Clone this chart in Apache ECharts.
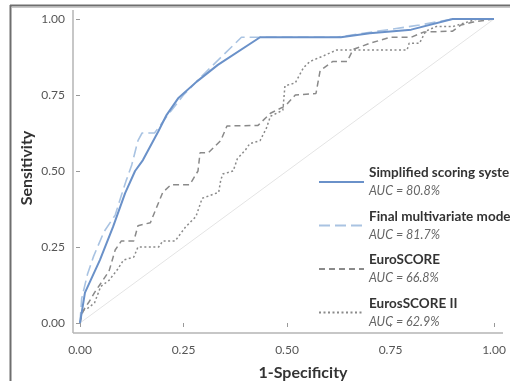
<!DOCTYPE html>
<html>
<head>
<meta charset="utf-8">
<script src="https://cdn.jsdelivr.net/npm/echarts@6/dist/echarts.min.js"></script>
<style>
  html, body { margin: 0; padding: 0; background: #fff; }
  #chart { width: 510px; height: 381px; }
</style>
</head>
<body>
<div id="chart"></div>
<script>
// ROC curves: [1-specificity, sensitivity]
const simplifiedScore = [
  [0, 0], [0.012, 0.10], [0.048, 0.207], [0.08, 0.317], [0.109, 0.427],
  [0.133, 0.50], [0.152, 0.536], [0.189, 0.63], [0.209, 0.684], [0.237, 0.739],
  [0.282, 0.794], [0.333, 0.849], [0.435, 0.94], [0.63, 0.94], [0.70, 0.953],
  [0.80, 0.965], [0.90, 1.0], [1, 1]
];
const finalModel = [
  [0, 0], [0.004, 0.08], [0.018, 0.16], [0.033, 0.22], [0.058, 0.30],
  [0.085, 0.355], [0.10, 0.42], [0.112, 0.47], [0.125, 0.52], [0.14, 0.60],
  [0.15, 0.625], [0.18, 0.625], [0.21, 0.68], [0.25, 0.75], [0.30, 0.82],
  [0.39, 0.94], [0.62, 0.94], [0.72, 0.96], [0.82, 0.98], [0.90, 1.0], [1, 1]
];
const euroScore = [
  [0, 0], [0.005, 0.03], [0.012, 0.05], [0.022, 0.07], [0.035, 0.10],
  [0.05, 0.13], [0.07, 0.17], [0.085, 0.24], [0.10, 0.27], [0.13, 0.27],
  [0.14, 0.32], [0.17, 0.33], [0.20, 0.43], [0.22, 0.455], [0.265, 0.455],
  [0.285, 0.50], [0.29, 0.56], [0.31, 0.56], [0.34, 0.60], [0.355, 0.648],
  [0.43, 0.65], [0.46, 0.69], [0.49, 0.71], [0.50, 0.72], [0.52, 0.75],
  [0.57, 0.755], [0.58, 0.83], [0.61, 0.86], [0.645, 0.86], [0.66, 0.90],
  [0.70, 0.92], [0.75, 0.94], [0.80, 0.94], [0.83, 0.957], [0.90, 0.96],
  [0.92, 0.98], [0.95, 0.99], [1, 1]
];
const euroScoreII = [
  [0, 0], [0.005, 0.04], [0.02, 0.05], [0.035, 0.066], [0.05, 0.12],
  [0.07, 0.14], [0.09, 0.175], [0.105, 0.207], [0.13, 0.217], [0.14, 0.25],
  [0.19, 0.25], [0.20, 0.27], [0.23, 0.27], [0.255, 0.316], [0.28, 0.35],
  [0.295, 0.41], [0.335, 0.43], [0.34, 0.47], [0.345, 0.49], [0.37, 0.50],
  [0.38, 0.54], [0.40, 0.57], [0.41, 0.59], [0.435, 0.60], [0.45, 0.64],
  [0.46, 0.68], [0.49, 0.70], [0.495, 0.78], [0.52, 0.79], [0.54, 0.84],
  [0.555, 0.86], [0.59, 0.88], [0.62, 0.898], [0.79, 0.898], [0.795, 0.92],
  [0.82, 0.92], [0.835, 0.96], [0.86, 0.975], [0.90, 0.975], [0.96, 1.0], [1, 1]
];
const chanceLine = [[0, 0], [1, 1]];

const seriesNames = ['Simplified scoring system', 'Final multivariate model', 'EuroSCORE', 'EurosSCORE II'];
const aucLabels = ['AUC = 80.8%', 'AUC = 81.7%', 'AUC = 66.8%', 'AUC = 62.9%'];

const FONT = 'Lato, "Noto Sans", sans-serif';
const chart = echarts.init(document.getElementById('chart'), null, { renderer: 'canvas' });

function lineSeries(name, data, color, width, type) {
  return {
    name, type: 'line', data, symbol: 'none', smooth: false,
    lineStyle: { color, width, type },
    itemStyle: { color },
    emphasis: { disabled: true },
    z: 3
  };
}

const option = {
  animation: false,
  backgroundColor: '#fff',
  grid: { left: 80, right: 16, top: 19, bottom: 58 },
  xAxis: {
    type: 'value', min: 0, max: 1, interval: 0.25, offset: 10,
    axisLine: { show: false },
    axisTick: { show: true, length: 4, lineStyle: { color: '#999' } },
    splitLine: { show: false },
    axisLabel: { color: '#555', fontFamily: FONT, fontSize: 12, margin: 11,
      formatter: v => v.toFixed(2) }
  },
  yAxis: {
    type: 'value', min: 0, max: 1, interval: 0.25, offset: 7,
    axisLine: { show: false },
    axisTick: { show: true, length: 4, lineStyle: { color: '#999' } },
    splitLine: { show: false },
    axisLabel: { color: '#555', fontFamily: FONT, fontSize: 12, margin: 8,
      formatter: v => v.toFixed(2) }
  },
  legend: {
    orient: 'vertical', left: 313, top: 161, itemWidth: 45, itemHeight: 10,
    itemGap: 12,
    itemStyle: { opacity: 0 },
    data: seriesNames,
    formatter: name => '{t|' + name + '}\n{a|' + aucLabels[seriesNames.indexOf(name)] + '}',
    textStyle: {
      rich: {
        t: { fontFamily: FONT, fontWeight: 'bold', fontSize: 13.5, color: '#333', lineHeight: 18 },
        a: { fontFamily: FONT, fontStyle: 'italic', fontSize: 12.5, color: '#666', lineHeight: 18 }
      }
    }
  },
  series: [
    lineSeries('chance', chanceLine, '#e4e4e4', 1, 'solid'),
    lineSeries(seriesNames[3], euroScoreII, '#8a8a8a', 1.5, [2, 2.5]),
    lineSeries(seriesNames[2], euroScore, '#8a8a8a', 1.5, [6, 4]),
    lineSeries(seriesNames[1], finalModel, '#a9c3e2', 1.6, [11, 5]),
    lineSeries(seriesNames[0], simplifiedScore, '#6a91c9', 2, 'solid')
  ]
};
chart.setOption(option);

// axis lines, frame and axis titles placed from the axis scales
const p00 = chart.convertToPixel({ gridIndex: 0 }, [0, 0]);
const p11 = chart.convertToPixel({ gridIndex: 0 }, [1, 1]);
const yAxisX = p00[0] - 7;
const xAxisY = p00[1] + 10;
chart.setOption({
  graphic: [
    { type: 'line', shape: { x1: yAxisX, y1: p11[1] - 9, x2: yAxisX, y2: xAxisY },
      style: { stroke: '#b5b5b5', lineWidth: 1.5 }, z: 1 },
    { type: 'line', shape: { x1: yAxisX, y1: xAxisY, x2: p11[0] + 9, y2: xAxisY },
      style: { stroke: '#b5b5b5', lineWidth: 1.5 }, z: 1 },
    { type: 'line', shape: { x1: 10.5, y1: 5, x2: 10.5, y2: 381 },
      style: { stroke: '#6e6e6e', lineWidth: 2 }, z: 1 },
    { type: 'line', shape: { x1: 10, y1: 5.5, x2: 510, y2: 5.5 },
      style: { stroke: '#6e6e6e', lineWidth: 2 }, z: 1 },
    { type: 'line', shape: { x1: 12, y1: 7.5, x2: 510, y2: 7.5 },
      style: { stroke: '#c8c8c8', lineWidth: 1 }, z: 1 },
    { type: 'text', x: (p00[0] + p11[0]) / 2 + 16, y: 373,
      style: { text: '1-Specificity', fontFamily: FONT, fontWeight: 'bold', fontSize: 16,
        fill: '#333', align: 'center', verticalAlign: 'middle' } },
    { type: 'text', x: 27, y: 168, rotation: Math.PI / 2,
      style: { text: 'Sensitivity', fontFamily: FONT, fontWeight: 'bold', fontSize: 16,
        fill: '#333', align: 'center', verticalAlign: 'middle' } }
  ]
});
</script>
</body>
</html>
